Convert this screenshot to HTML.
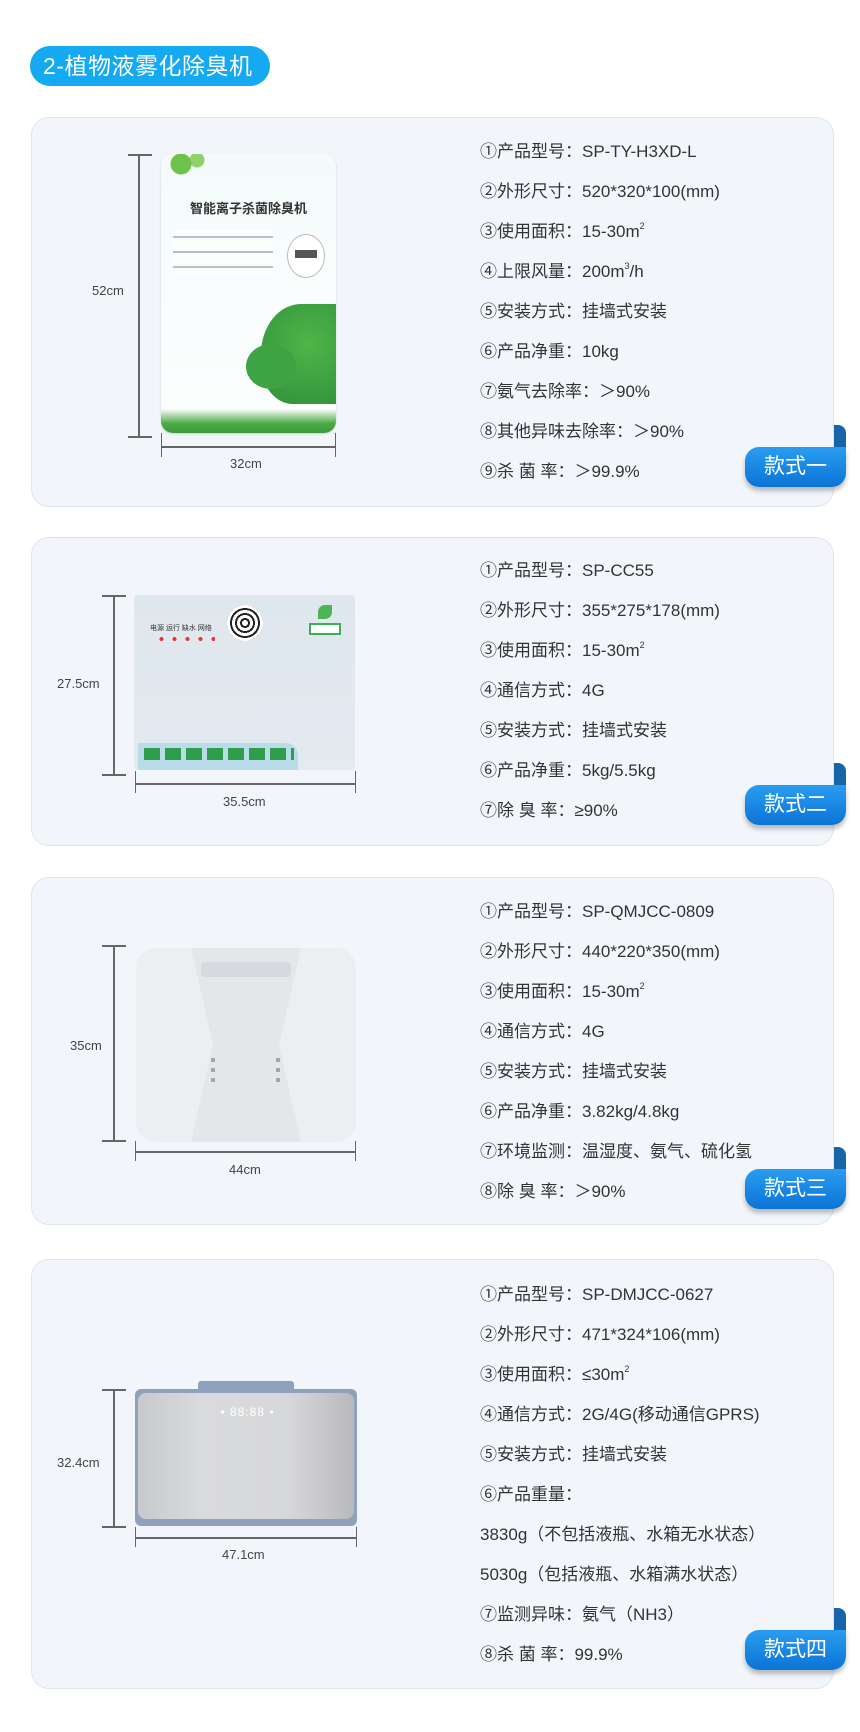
<!DOCTYPE html>
<html><head><meta charset="utf-8">
<style>
*{margin:0;padding:0;box-sizing:border-box}
body{width:860px;height:1732px;background:#fff;position:relative;overflow:hidden;font-family:"Liberation Sans","Noto Sans CJK SC",sans-serif;color:#333}
.a{position:absolute}
.pill{left:30px;top:46px;width:240px;height:40px;border-radius:20px;background:#14a9f0;color:#fff;font-size:23px;line-height:40px;padding-left:13px;letter-spacing:0.5px}
.card{position:absolute;left:31px;width:803px;background:#f2f6fb;border:1px solid #dde6f0;border-radius:18px}
.sp{position:absolute;left:480px;font-size:17px;line-height:22px;height:22px;color:#333;white-space:nowrap}
.sp sup{font-size:9px;line-height:0;vertical-align:0;position:relative;top:-8px}
.badge{position:absolute;left:745px;width:101px;height:40px;border-radius:14px 0 14px 14px;background:linear-gradient(#2a9df0,#0b73d6);color:#fff;font-size:21px;line-height:40px;text-align:center;box-shadow:0 4px 5px rgba(0,0,0,.25)}
.tab{position:absolute;left:834px;width:12px;height:24px;background:#1565a8;border-radius:0 8px 0 0}
.vl{position:absolute;width:2px;background:#666}
.hl{position:absolute;height:2px;background:#666}
.lbl{position:absolute;font-size:13px;color:#444;white-space:nowrap}
</style></head><body>
<div class="a pill">2-植物液雾化除臭机</div>

<!-- card 1 -->
<div class="card" style="top:117px;height:390px"></div>
<div class="vl" style="left:138px;top:154px;height:283px"></div>
<div class="hl" style="left:128px;top:154px;width:24px"></div>
<div class="hl" style="left:128px;top:436px;width:24px"></div>
<div class="lbl" style="left:92px;top:283px">52cm</div>
<div class="hl" style="left:161px;top:446px;width:175px"></div>
<div class="vl" style="left:161px;top:433px;height:24px;width:1px"></div>
<div class="vl" style="left:335px;top:433px;height:24px;width:1px"></div>
<div class="lbl" style="left:230px;top:456px">32cm</div>
<div class="a" style="left:161px;top:154px;width:175px;height:279px;background:linear-gradient(#f4fbfb,#fdfefe);border-radius:12px;overflow:hidden;box-shadow:0 1px 2px rgba(0,0,0,.15)">
 <div class="a" style="left:0;top:0;width:50px;height:28px;background:radial-gradient(circle at 20px 10px,#6cc24a 0 10px,transparent 11px),radial-gradient(circle at 36px 6px,#8fd16a 0 7px,transparent 8px)"></div>
 <div class="a" style="left:0;top:44px;width:175px;text-align:center;font-size:13px;font-weight:bold;color:#333">智能离子杀菌除臭机</div>
 <div class="a" style="left:12px;top:76px;width:100px;height:44px;background:repeating-linear-gradient(#fff 0 6px,#8a9aa8 6px 8px,#fff 8px 15px);opacity:.6"></div>
 <div class="a" style="left:126px;top:80px;width:38px;height:44px;border-radius:50%;border:1px solid #bbb;background:#fff"></div>
 <div class="a" style="left:134px;top:96px;width:22px;height:8px;background:#555"></div>
 <div class="a" style="left:100px;top:150px;width:80px;height:100px;border-radius:50% 0 0 40%;background:radial-gradient(circle at 60% 40%,#4fb548,#2f8f3a)"></div>
 <div class="a" style="left:85px;top:190px;width:50px;height:45px;border-radius:50%;background:#3ea343"></div>
 <div class="a" style="left:0;top:255px;width:175px;height:24px;background:linear-gradient(#fff0,#4cab45 60%,#3a9a3c)"></div>
</div>
<div class="sp" style="top:141px">①产品型号：SP-TY-H3XD-L</div>
<div class="sp" style="top:181px">②外形尺寸：520*320*100(mm)</div>
<div class="sp" style="top:221px">③使用面积：15-30m<sup>2</sup></div>
<div class="sp" style="top:261px">④上限风量：200m<sup>3</sup>/h</div>
<div class="sp" style="top:301px">⑤安装方式：挂墙式安装</div>
<div class="sp" style="top:341px">⑥产品净重：10kg</div>
<div class="sp" style="top:381px">⑦氨气去除率：＞90%</div>
<div class="sp" style="top:421px">⑧其他异味去除率：＞90%</div>
<div class="sp" style="top:461px">⑨杀 菌 率：＞99.9%</div>
<div class="tab" style="top:425px"></div>
<div class="badge" style="top:447px">款式一</div>

<!-- card 2 -->
<div class="card" style="top:537px;height:309px"></div>
<div class="vl" style="left:113px;top:595px;height:180px"></div>
<div class="hl" style="left:102px;top:595px;width:24px"></div>
<div class="hl" style="left:102px;top:774px;width:24px"></div>
<div class="lbl" style="left:57px;top:676px">27.5cm</div>
<div class="hl" style="left:135px;top:783px;width:221px"></div>
<div class="vl" style="left:135px;top:771px;height:22px;width:1px"></div>
<div class="vl" style="left:355px;top:771px;height:22px;width:1px"></div>
<div class="lbl" style="left:223px;top:794px">35.5cm</div>
<div class="a" style="left:134px;top:595px;width:221px;height:175px;background:linear-gradient(#dfe7ee,#e3eaf0);border-radius:3px;overflow:hidden">
 <div class="a" style="left:93px;top:10px;width:36px;height:36px;border-radius:50%;background:repeating-radial-gradient(#fff 0 3px,#222 3px 5px);"></div>
 <div class="a" style="left:16px;top:28px;font-size:7px;color:#333">电源 运行 缺水 网络</div>
 <div class="a" style="left:21px;top:42px;width:60px;height:4px;background:radial-gradient(circle,#e33 0 2px,transparent 2px) 0 0/13px 4px repeat-x"></div>
 <div class="a" style="left:175px;top:28px;width:32px;height:12px;border:2px solid #3bb05a;background:#fff"></div>
 <div class="a" style="left:184px;top:10px;width:14px;height:14px;border-radius:50% 0;background:#4bb653"></div>
 <div class="a" style="left:4px;top:148px;width:160px;height:27px;background:#b9dceb;border-radius:0 12px 0 0"></div>
 <div class="a" style="left:10px;top:153px;width:150px;height:12px;background:repeating-linear-gradient(90deg,#2e9e4a 0 16px,transparent 16px 21px)"></div>
</div>
<div class="sp" style="top:560px">①产品型号：SP-CC55</div>
<div class="sp" style="top:600px">②外形尺寸：355*275*178(mm)</div>
<div class="sp" style="top:640px">③使用面积：15-30m<sup>2</sup></div>
<div class="sp" style="top:680px">④通信方式：4G</div>
<div class="sp" style="top:720px">⑤安装方式：挂墙式安装</div>
<div class="sp" style="top:760px">⑥产品净重：5kg/5.5kg</div>
<div class="sp" style="top:800px">⑦除 臭 率：≥90%</div>
<div class="tab" style="top:763px"></div>
<div class="badge" style="top:785px">款式二</div>

<!-- card 3 -->
<div class="card" style="top:877px;height:348px"></div>
<div class="vl" style="left:113px;top:945px;height:196px"></div>
<div class="hl" style="left:102px;top:945px;width:24px"></div>
<div class="hl" style="left:102px;top:1140px;width:24px"></div>
<div class="lbl" style="left:70px;top:1038px">35cm</div>
<div class="hl" style="left:135px;top:1151px;width:221px"></div>
<div class="vl" style="left:135px;top:1141px;height:20px;width:1px"></div>
<div class="vl" style="left:355px;top:1141px;height:20px;width:1px"></div>
<div class="lbl" style="left:229px;top:1162px">44cm</div>
<div class="a" style="left:136px;top:948px;width:220px;height:194px;background:#eceef1;border-radius:20px;overflow:hidden">
 <div class="a" style="left:55px;top:0;width:110px;height:194px;background:#e4e6e9;clip-path:polygon(0 0,100% 0,80% 50%,100% 100%,0 100%,20% 50%)"></div>
 <div class="a" style="left:65px;top:14px;width:90px;height:15px;background:#d6d9de;border-radius:4px"></div>
 <div class="a" style="left:75px;top:110px;width:4px;height:30px;background:repeating-linear-gradient(#9aa 0 4px,transparent 4px 10px)"></div>
 <div class="a" style="left:140px;top:110px;width:4px;height:30px;background:repeating-linear-gradient(#9aa 0 4px,transparent 4px 10px)"></div>
</div>
<div class="sp" style="top:901px">①产品型号：SP-QMJCC-0809</div>
<div class="sp" style="top:941px">②外形尺寸：440*220*350(mm)</div>
<div class="sp" style="top:981px">③使用面积：15-30m<sup>2</sup></div>
<div class="sp" style="top:1021px">④通信方式：4G</div>
<div class="sp" style="top:1061px">⑤安装方式：挂墙式安装</div>
<div class="sp" style="top:1101px">⑥产品净重：3.82kg/4.8kg</div>
<div class="sp" style="top:1141px">⑦环境监测：温湿度、氨气、硫化氢</div>
<div class="sp" style="top:1181px">⑧除 臭 率：＞90%</div>
<div class="tab" style="top:1147px"></div>
<div class="badge" style="top:1169px">款式三</div>

<!-- card 4 -->
<div class="card" style="top:1259px;height:430px"></div>
<div class="vl" style="left:113px;top:1389px;height:138px"></div>
<div class="hl" style="left:102px;top:1389px;width:24px"></div>
<div class="hl" style="left:102px;top:1526px;width:24px"></div>
<div class="lbl" style="left:57px;top:1455px">32.4cm</div>
<div class="hl" style="left:135px;top:1537px;width:222px"></div>
<div class="vl" style="left:135px;top:1527px;height:20px;width:1px"></div>
<div class="vl" style="left:356px;top:1527px;height:20px;width:1px"></div>
<div class="lbl" style="left:222px;top:1547px">47.1cm</div>
<div class="a" style="left:198px;top:1381px;width:96px;height:12px;background:#8fa2bd;border-radius:3px 3px 0 0"></div>
<div class="a" style="left:135px;top:1389px;width:222px;height:137px;background:#8fa2bd;border-radius:6px"></div>
<div class="a" style="left:138px;top:1393px;width:216px;height:126px;background:linear-gradient(90deg,#c8c9cb,#dadbdd 30%,#d6d7d9 70%,#b8b9bc);border-radius:8px"></div>
<div class="a" style="left:205px;top:1405px;width:85px;text-align:center;font-size:12px;color:#fff;letter-spacing:1px">•  88:88  •</div>
<div class="sp" style="top:1284px">①产品型号：SP-DMJCC-0627</div>
<div class="sp" style="top:1324px">②外形尺寸：471*324*106(mm)</div>
<div class="sp" style="top:1364px">③使用面积：≤30m<sup>2</sup></div>
<div class="sp" style="top:1404px">④通信方式：2G/4G(移动通信GPRS)</div>
<div class="sp" style="top:1444px">⑤安装方式：挂墙式安装</div>
<div class="sp" style="top:1484px">⑥产品重量：</div>
<div class="sp" style="top:1524px">3830g（不包括液瓶、水箱无水状态）</div>
<div class="sp" style="top:1564px">5030g（包括液瓶、水箱满水状态）</div>
<div class="sp" style="top:1604px">⑦监测异味：氨气（NH3）</div>
<div class="sp" style="top:1644px">⑧杀 菌 率：99.9%</div>
<div class="tab" style="top:1608px"></div>
<div class="badge" style="top:1630px">款式四</div>
</body></html>
